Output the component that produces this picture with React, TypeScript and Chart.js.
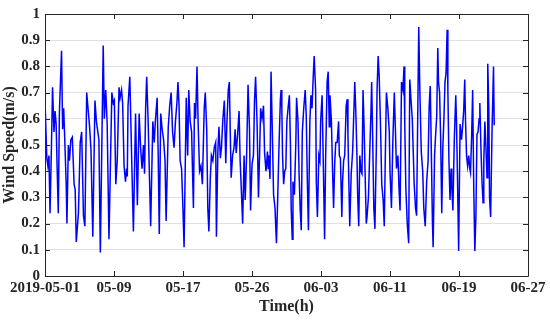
import React, { useEffect, useRef } from "react";
import { Chart, registerables } from "chart.js";

Chart.register(...registerables);

const tickLabels = ["2019-05-01", "05-09", "05-17", "05-26", "06-03", "06-11", "06-19", "06-27"];
const hoursPerTick = 192;

const hours = [
  0, 5, 8, 11, 14, 18, 21, 25, 28, 31, 34, 37, 40, 44, 46, 49, 52, 55, 59, 61, 65, 68, 72, 76, 81, 84, 87, 93, 98, 102,
  107, 111, 116, 121, 124, 128, 133, 139, 143, 147, 150, 154, 162, 165, 169, 173, 178, 186, 190, 193, 197, 201,
  206, 209, 213, 216, 220, 224, 227, 229, 231, 236, 241, 246, 252, 257, 262, 266, 270, 274, 277, 280, 283, 287, 294,
  300, 304, 307, 312, 315, 318, 322, 326, 330, 334, 337, 343, 347, 351, 355, 359, 363, 367, 370, 373, 376, 380, 384,
  387, 393, 397, 400, 404, 408, 410, 413, 416, 419, 423, 426, 430, 434, 438, 443, 446, 450, 453, 456, 460, 463, 467,
  471, 475, 477, 481, 484, 488, 491, 495, 499, 503, 506, 510, 513, 516, 518, 522, 526, 529, 532, 536, 540, 543, 546,
  550, 554, 557, 561, 565, 569, 572, 576, 580, 583, 586, 590, 594, 597, 600, 604, 608, 611, 615, 619, 621, 623, 626,
  629, 633, 636, 640, 644, 647, 651, 655, 657, 659, 661, 664, 667, 670, 673, 677, 680, 683, 685, 688, 690, 694, 698,
  700, 704, 707, 710, 713, 716, 720, 724, 727, 730, 733, 737, 740, 743, 746, 749, 753, 755, 758, 762, 765, 767, 771,
  774, 778, 781, 785, 788, 791, 793, 797, 800, 803, 806, 809, 813, 817, 819, 822, 826, 828, 831, 834, 838, 841, 843,
  845, 848, 852, 856, 859, 862, 865, 868, 870, 873, 876, 879, 882, 885, 888, 891, 894, 896, 900, 904, 907, 909, 912,
  915, 918, 922, 924, 927, 930, 934, 937, 941, 944, 947, 950, 954, 958, 960, 964, 968, 972, 975, 978, 982, 985, 988,
  992, 996, 999, 1001, 1004, 1008, 1012, 1015, 1019, 1022, 1025, 1027, 1031, 1034, 1040, 1043, 1047, 1051, 1054, 1058,
  1062, 1066, 1069, 1072, 1075, 1078, 1080, 1084, 1087, 1090, 1093, 1095, 1098, 1101, 1104, 1107, 1110, 1113, 1116,
  1119, 1121, 1124, 1127, 1130, 1132, 1135, 1139, 1143, 1145, 1148, 1151, 1155, 1159, 1162, 1165, 1168, 1170, 1173,
  1176, 1179, 1182, 1184, 1187, 1190, 1193, 1196, 1199, 1202, 1205, 1208, 1210, 1213, 1216, 1219, 1221, 1224, 1227,
  1230, 1232, 1235, 1237, 1240, 1244, 1248, 1250,
];

const windSpeed = [
  0.67, 0.45, 0.42, 0.46, 0.24, 0.5, 0.72, 0.55, 0.63, 0.58, 0.4, 0.24, 0.62, 0.78, 0.86, 0.56, 0.64, 0.52, 0.35, 0.2, 0.5, 0.44, 0.52, 0.53, 0.35, 0.33, 0.13, 0.24, 0.51, 0.55,
  0.23, 0.19, 0.7, 0.62, 0.57, 0.48, 0.15, 0.67, 0.59, 0.55, 0.52, 0.09, 0.88, 0.6, 0.71, 0.58, 0.14, 0.7, 0.66, 0.67, 0.35, 0.44,
  0.72, 0.68, 0.71, 0.66, 0.42, 0.36, 0.41, 0.38, 0.65, 0.76, 0.46, 0.17, 0.62, 0.27, 0.62, 0.49, 0.41, 0.5, 0.39, 0.64, 0.76, 0.59, 0.19,
  0.59, 0.51, 0.59, 0.68, 0.46, 0.16, 0.62, 0.56, 0.52, 0.44, 0.21, 0.57, 0.65, 0.7, 0.55, 0.49, 0.59, 0.66, 0.74, 0.65, 0.44, 0.41, 0.25,
  0.11, 0.68, 0.46, 0.71, 0.59, 0.55, 0.43, 0.26, 0.66, 0.6, 0.8, 0.59, 0.4, 0.42, 0.35, 0.64, 0.7, 0.56, 0.26, 0.17, 0.375, 0.46, 0.44,
  0.49, 0.51, 0.15, 0.475, 0.57, 0.45, 0.49, 0.6, 0.67, 0.43, 0.58, 0.71, 0.74, 0.51, 0.375, 0.46, 0.49, 0.56, 0.47, 0.54, 0.63, 0.44, 0.34,
  0.2, 0.46, 0.29, 0.46, 0.73, 0.56, 0.25, 0.425, 0.46, 0.67, 0.76, 0.59, 0.3, 0.46, 0.64, 0.6, 0.65, 0.47, 0.4, 0.475, 0.41, 0.46, 0.37,
  0.78, 0.52, 0.31, 0.26, 0.125, 0.27, 0.49, 0.675, 0.71, 0.64, 0.46, 0.35, 0.4, 0.41, 0.59, 0.65, 0.69, 0.5, 0.26, 0.14, 0.36, 0.31, 0.51,
  0.68, 0.59, 0.39, 0.26, 0.175, 0.55, 0.64, 0.71, 0.61, 0.36, 0.175, 0.59, 0.69, 0.64, 0.75, 0.84, 0.71, 0.36, 0.225, 0.46, 0.44, 0.59, 0.69,
  0.46, 0.14, 0.46, 0.74, 0.78, 0.57, 0.69, 0.59, 0.41, 0.26, 0.425, 0.51, 0.51, 0.59, 0.46, 0.45, 0.225, 0.36, 0.44, 0.46, 0.65, 0.675, 0.54,
  0.39, 0.19, 0.39, 0.475, 0.61, 0.74, 0.62, 0.46, 0.31, 0.19, 0.46, 0.4, 0.39, 0.71, 0.56, 0.375, 0.2, 0.225, 0.3, 0.49, 0.625, 0.74, 0.51,
  0.26, 0.18, 0.49, 0.71, 0.84, 0.76, 0.55, 0.35, 0.29, 0.19, 0.46, 0.7, 0.64, 0.55, 0.4, 0.26, 0.52, 0.7, 0.56, 0.41, 0.46, 0.34, 0.25,
  0.74, 0.71, 0.8, 0.59, 0.34, 0.2, 0.125, 0.75, 0.66, 0.6, 0.46, 0.36, 0.26, 0.23, 0.95, 0.71, 0.475, 0.4, 0.26, 0.19,
  0.36, 0.44, 0.65, 0.725, 0.475, 0.21, 0.11, 0.46, 0.54, 0.61, 0.87, 0.74, 0.7, 0.52, 0.24, 0.49, 0.6, 0.74, 0.775,
  0.94, 0.71, 0.44, 0.29, 0.41, 0.34, 0.25, 0.525, 0.69, 0.59, 0.36, 0.095, 0.58, 0.52, 0.57, 0.63, 0.75, 0.6, 0.46,
  0.42, 0.46, 0.41, 0.395, 0.525, 0.71, 0.34, 0.095, 0.225, 0.54, 0.55, 0.6, 0.66, 0.49, 0.36, 0.28, 0.44, 0.59, 0.49,
  0.375, 0.81, 0.64, 0.3, 0.225, 0.56, 0.8, 0.575,
];

const FONT = "'Liberation Serif', 'Times New Roman', serif";
const AXIS_COLOR = "#262626";

const framePlugin = {
  id: "frame",
  afterDraw(chart: any) {
    const { ctx, chartArea } = chart;
    const xs = chart.scales.x;
    const ys = chart.scales.y;
    const { left, right, top, bottom } = chartArea;
    ctx.save();
    ctx.strokeStyle = AXIS_COLOR;
    ctx.lineWidth = 1;
    ctx.beginPath();
    ctx.rect(Math.round(left) + 0.5, Math.round(top) + 0.5, Math.round(right - left), Math.round(bottom - top));
    ctx.stroke();
    const len = 5;
    ctx.beginPath();
    xs.ticks.forEach((t: any) => {
      const px = Math.round(xs.getPixelForValue(t.value)) + 0.5;
      ctx.moveTo(px, bottom);
      ctx.lineTo(px, bottom - len);
      ctx.moveTo(px, top);
      ctx.lineTo(px, top + len);
    });
    ys.ticks.forEach((t: any) => {
      const py = Math.round(ys.getPixelForValue(t.value)) + 0.5;
      ctx.moveTo(left, py);
      ctx.lineTo(left + len, py);
      ctx.moveTo(right, py);
      ctx.lineTo(right - len, py);
    });
    ctx.stroke();
    ctx.restore();
  },
};

export default function App() {
  const ref = useRef<HTMLCanvasElement>(null);

  useEffect(() => {
    if (!ref.current) return;
    const points = hours.map((h, i) => ({ x: h, y: windSpeed[i] }));
    const chart = new Chart(ref.current, {
      type: "line",
      data: {
        datasets: [
          {
            data: points,
            borderColor: "#0000ff",
            borderWidth: 1.5,
            pointRadius: 0,
            tension: 0,
            fill: false,
          },
        ],
      },
      options: {
        animation: false,
        responsive: false,
        maintainAspectRatio: false,
        layout: { padding: { top: 11, right: 22, left: 0, bottom: 0 } },
        plugins: { legend: { display: false }, tooltip: { enabled: false } },
        scales: {
          x: {
            type: "linear",
            min: 0,
            max: hoursPerTick * (tickLabels.length - 1),
            grid: { display: false, drawTicks: false },
            border: { display: false },
            afterBuildTicks(scale: any) {
              scale.ticks = tickLabels.map((_, i) => ({ value: i * hoursPerTick }));
            },
            afterFit(scale: any) {
              scale.height = 47;
            },
            ticks: {
              autoSkip: false,
              maxRotation: 0,
              padding: 3,
              color: AXIS_COLOR,
              font: { family: FONT, size: 15, weight: "bold" },
              callback: (v: any) => tickLabels[Math.round(Number(v) / hoursPerTick)] ?? "",
            },
            title: {
              display: true,
              text: "Time(h)",
              color: AXIS_COLOR,
              font: { family: FONT, size: 16, weight: "bold" },
              padding: { top: 0, bottom: 7 },
            },
          },
          y: {
            min: 0,
            max: 1,
            grid: { color: "#e1e1e1", lineWidth: 1, drawTicks: false },
            border: { display: false },
            afterFit(scale: any) {
              scale.width = 45;
            },
            ticks: {
              stepSize: 0.1,
              padding: 5,
              color: AXIS_COLOR,
              font: { family: FONT, size: 15, weight: "bold" },
              callback: (v: any) => String(Number(Number(v).toFixed(1))),
            },
            title: {
              display: true,
              text: "Wind Speed(m/s)",
              color: AXIS_COLOR,
              font: { family: FONT, size: 16, weight: "bold" },
              padding: { top: 0, bottom: 0 },
            },
          },
        },
      },
      plugins: [framePlugin],
    });
    return () => chart.destroy();
  }, []);

  return (
    <div style={{ position: "fixed", left: 0, top: 0, width: 550, height: 323, background: "#fff" }}>
      <canvas ref={ref} width={550} height={323} style={{ width: 550, height: 323, display: "block" }} />
    </div>
  );
}
